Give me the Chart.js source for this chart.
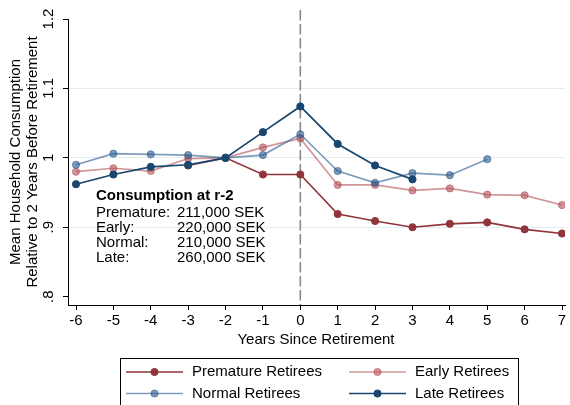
<!DOCTYPE html>
<html>
<head>
<meta charset="utf-8">
<script src="https://cdn.jsdelivr.net/npm/chart.js@4.4.1/dist/chart.umd.min.js"></script>
<style>
  body { margin: 0; background: #fff; }
  canvas { display: block; }
</style>
</head>
<body>
<canvas id="chart" width="570" height="405"></canvas>
<script>
// Data
const years = [-6, -5, -4, -3, -2, -1, 0, 1, 2, 3, 4, 5, 6, 7];
const premature = [null, null, null, 0.989, 1.0, 0.976, 0.976, 0.919, 0.909, 0.900, 0.905, 0.907, 0.897, 0.891];
const early = [0.980, 0.985, 0.981, 0.999, 1.0, 1.015, 1.028, 0.961, 0.961, 0.953, 0.956, 0.947, 0.946, 0.932];
const normal = [0.990, 1.006, 1.005, 1.004, 1.0, 1.004, 1.034, 0.981, 0.964, 0.978, 0.975, 0.998, null, null];
const late = [0.962, 0.976, 0.987, 0.990, 1.0, 1.037, 1.074, 1.020, 0.989, 0.969, null, null, null, null];

const seriesNames = ['Premature Retirees', 'Early Retirees', 'Normal Retirees', 'Late Retirees'];
const yTicks = [0.8, 0.9, 1.0, 1.1, 1.2];
const yTickLabels = ['.8', '.9', '1', '1.1', '1.2'];
const yGridAt = [0.9, 1.0, 1.1];
const xTitle = 'Years Since Retirement';
const yTitle = ['Mean Household Consumption', 'Relative to 2 Years Before Retirement'];
const noteTitle = 'Consumption at r-2';
const noteGroups = ['Premature:', 'Early:', 'Normal:', 'Late:'];
const noteValues = ['211,000 SEK', '220,000 SEK', '210,000 SEK', '260,000 SEK'];

const FONT = '"Liberation Sans", Arial, sans-serif';

const colors = ['#90353b', 'rgba(180,85,92,0.62)', 'rgba(40,90,140,0.6)', '#1a476f'];

function toPoints(vals) {
  return years.map((x, i) => ({ x, y: vals[i] }));
}

function makeSet(label, vals, color, order) {
  return {
    label,
    data: toPoints(vals),
    borderColor: color,
    backgroundColor: color,
    pointBackgroundColor: color,
    pointBorderColor: color,
    pointBorderWidth: 1,
    pointRadius: 3.6,
    borderWidth: 1.7,
    tension: 0,
    spanGaps: false,
    order
  };
}

// Extra drawing: rotated y labels, titles, x=0 dashed line, note and legend box
const extras = {
  id: 'extras',
  beforeDatasetsDraw(chart) {
    const { ctx, chartArea, scales } = chart;
    const x0 = scales.x.getPixelForValue(0);
    ctx.save();
    ctx.strokeStyle = '#8a8a8a';
    ctx.lineWidth = 1.6;
    ctx.setLineDash([10.5, 3.5]);
    ctx.beginPath();
    ctx.moveTo(x0, chartArea.top - 9);
    ctx.lineTo(x0, chartArea.bottom);
    ctx.stroke();
    ctx.restore();
  },
  afterDraw(chart) {
    const { ctx, chartArea, scales } = chart;
    ctx.save();
    ctx.fillStyle = '#000';
    ctx.font = '15px ' + FONT;
    ctx.textAlign = 'center';
    ctx.textBaseline = 'middle';

    // y tick labels, rotated like the original
    yTicks.forEach((v, i) => {
      const py = scales.y.getPixelForValue(v);
      ctx.save();
      ctx.translate(49, py);
      ctx.rotate(-Math.PI / 2);
      ctx.fillText(yTickLabels[i], 0, 0);
      ctx.restore();
    });

    // y title
    const midY = (chartArea.top + chartArea.bottom) / 2;
    yTitle.forEach((t, i) => {
      ctx.save();
      ctx.translate(16 + i * 16.5, midY);
      ctx.rotate(-Math.PI / 2);
      ctx.fillText(t, 0, 0);
      ctx.restore();
    });

    // x title
    ctx.fillText(xTitle, 316, 340);

    // note
    ctx.textAlign = 'left';
    ctx.font = 'bold 15px ' + FONT;
    ctx.fillText(noteTitle, 96, 196);
    ctx.font = '15px ' + FONT;
    noteGroups.forEach((g, i) => {
      const yy = 212.5 + i * 15;
      ctx.fillText(g, 96, yy);
      ctx.fillText(noteValues[i], 177, yy);
    });

    // legend box
    ctx.strokeStyle = '#000';
    ctx.lineWidth = 1;
    ctx.strokeRect(120.5, 358.5, 398, 60);
    chart.data.datasets.forEach((ds, i) => {
      const col = i % 2, row = Math.floor(i / 2);
      const lx = col === 0 ? 126 : 349;
      const ly = row === 0 ? 372 : 393.5;
      ctx.strokeStyle = ds.borderColor;
      ctx.lineWidth = 1.7;
      ctx.beginPath();
      ctx.moveTo(lx, ly);
      ctx.lineTo(lx + 57, ly);
      ctx.stroke();
      ctx.fillStyle = ds.pointBackgroundColor;
      ctx.beginPath();
      ctx.arc(lx + 28.5, ly, 3.6, 0, Math.PI * 2);
      ctx.fill();
      ctx.strokeStyle = ds.pointBorderColor;
      ctx.lineWidth = 1;
      ctx.stroke();
      ctx.fillStyle = '#000';
      ctx.fillText(ds.label, lx + 66, ly);
    });
    ctx.restore();
  }
};

new Chart(document.getElementById('chart'), {
  type: 'line',
  data: {
    datasets: [
      makeSet(seriesNames[0], premature, colors[0], 4),
      makeSet(seriesNames[1], early, colors[1], 3),
      makeSet(seriesNames[2], normal, colors[2], 2),
      makeSet(seriesNames[3], late, colors[3], 1)
    ]
  },
  options: {
    responsive: false,
    animation: false,
    layout: { padding: { left: 0, right: 0, top: 19, bottom: 0 } },
    plugins: { legend: { display: false }, tooltip: { enabled: false } },
    scales: {
      x: {
        type: 'linear',
        min: -6.214,
        max: 7.08,
        afterBuildTicks: s => { s.ticks = years.map(v => ({ value: v })); },
        afterFit: s => { s.height = 100; },
        grid: { drawOnChartArea: false, drawTicks: true, tickLength: 5, tickColor: '#000', lineWidth: 1 },
        border: { display: true, color: '#000', width: 1 },
        ticks: { color: '#000', font: { family: FONT, size: 15 }, padding: 2, maxRotation: 0, autoSkip: false }
      },
      y: {
        min: 0.788,
        max: 1.2,
        afterBuildTicks: s => { s.ticks = yTicks.map(v => ({ value: v })); },
        afterFit: s => { s.width = 68; },
        grid: {
          drawTicks: true,
          tickLength: 5,
          tickColor: '#000',
          color: c => (c.tick && yGridAt.some(g => Math.abs(g - c.tick.value) < 1e-9)) ? '#e3ecee' : 'rgba(0,0,0,0)',
          lineWidth: 1
        },
        border: { display: true, color: '#000', width: 1 },
        ticks: { display: false }
      }
    }
  },
  plugins: [extras]
});
</script>
</body>
</html>
